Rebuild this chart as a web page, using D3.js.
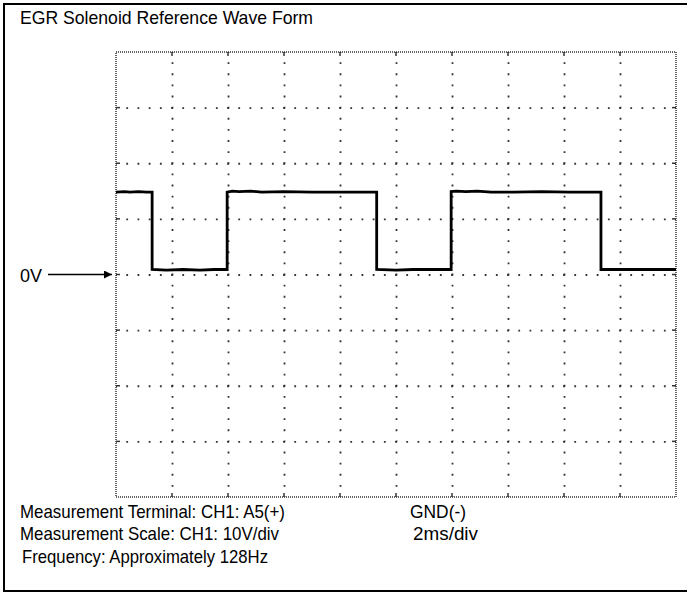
<html>
<head>
    <style>
        body { margin: 0; background: #ffffff; }
        svg { display: block; font-family: Arial, "Liberation Sans", Helvetica, sans-serif; }
    </style>
    <script src="https://cdn.jsdelivr.net/npm/d3@7"></script>
</head>
<body>
<svg id="Osciloscopio"></svg>
<script>
    // Trace: time in ms, voltage in V
    let tiempos = [0, 0.3, 0.5, 0.8, 1.1, 1.29,
                   1.29, 1.8, 2.4, 3.0, 3.5, 3.97,
                   3.97, 4.15, 4.4, 4.8, 5.2, 6.0, 7.0, 8.0, 8.8, 9.31,
                   9.31, 10.0, 10.6, 11.2, 11.97,
                   11.97, 12.15, 12.5, 12.9, 13.4, 14.2, 15.2, 16.2, 17.32,
                   17.32, 18.2, 19.2, 20];
    let voltajes = [14.8, 14.9, 14.8, 14.9, 14.8, 14.8,
                    0.9, 0.8, 0.9, 0.8, 0.9, 0.9,
                    14.8, 15.0, 14.9, 15.0, 14.8, 14.9, 14.8, 14.8, 14.8, 14.8,
                    0.9, 0.8, 0.9, 0.9, 0.9,
                    14.9, 15.0, 14.9, 15.0, 14.8, 14.8, 14.9, 14.8, 14.8,
                    0.9, 0.9, 0.9, 0.9];

    // 2ms/div x 10 divisions, 10V/div x 8 divisions
    let ticksTiempo = [0, 2, 4, 6, 8, 10, 12, 14, 16, 18, 20];
    let ticksVoltaje = [-40, -30, -20, -10, 0, 10, 20, 30, 40];

    let titulo = "EGR Solenoid Reference Wave Form";
    let notas = [
        ["Measurement Terminal: CH1: A5(+)", "GND(-)"],
        ["Measurement Scale: CH1: 10V/div", "2ms/div"],
        ["Frequency: Approximately 128Hz", ""]
    ];

    let ancho = 687, alto = 594;
    let margenes = { top: 52, bottom: 97, left: 116, right: 11 };
    let anchuraCuerpo = ancho - margenes.left - margenes.right;
    let alturaCuerpo = alto - margenes.top - margenes.bottom;

    let contenedor = d3.select("#Osciloscopio").attr("width", ancho).attr("height", alto);

    // marco exterior (el borde derecho queda fuera de la imagen)
    contenedor.append("rect")
        .attr("x", 4).attr("y", 4).attr("width", 700).attr("height", 587)
        .attr("fill", "none").attr("stroke", "#000").attr("stroke-width", 2);

    contenedor.append("text")
        .attr("x", 20).attr("y", 24)
        .attr("font-size", 18.5)
        .attr("textLength", 293).attr("lengthAdjust", "spacingAndGlyphs")
        .text(titulo);

    let escalaX = d3.scaleLinear().domain([0, 20]).range([margenes.left, margenes.left + anchuraCuerpo]);
    let escalaY = d3.scaleLinear().domain([-40, 40]).range([margenes.top + alturaCuerpo, margenes.top]);

    let pasoX = (escalaX(2) - escalaX(0)) / 5;
    let pasoY = (escalaY(0) - escalaY(10)) / 5;

    // rejilla interior punteada (5 puntos por division)
    let ejeX = d3.axisBottom(escalaX).tickValues(ticksTiempo.slice(1, -1)).tickSize(-alturaCuerpo).tickFormat("");
    let gX = contenedor.append("g")
        .attr("transform", `translate(0,${margenes.top + alturaCuerpo})`)
        .call(ejeX);
    gX.select(".domain").remove();
    gX.selectAll(".tick line")
        .attr("stroke", "#333").attr("stroke-width", 1.8)
        .attr("stroke-dasharray", `1.8,${pasoY - 1.8}`)
        .attr("stroke-dashoffset", 0.9);

    let ejeY = d3.axisLeft(escalaY).tickValues(ticksVoltaje.slice(1, -1)).tickSize(-anchuraCuerpo).tickFormat("");
    let gY = contenedor.append("g")
        .attr("transform", `translate(${margenes.left},0)`)
        .call(ejeY);
    gY.select(".domain").remove();
    gY.selectAll(".tick line")
        .attr("stroke", "#333").attr("stroke-width", 1.8)
        .attr("stroke-dasharray", `1.8,${pasoX - 1.8}`)
        .attr("stroke-dashoffset", 0.9);

    // borde de la rejilla
    contenedor.append("rect")
        .attr("x", margenes.left).attr("y", margenes.top)
        .attr("width", anchuraCuerpo).attr("height", alturaCuerpo)
        .attr("fill", "none").attr("stroke", "#333").attr("stroke-width", 1.5)
        .attr("stroke-dasharray", "1,1");

    // pequeñas marcas en el borde en cada division
    let marcas = contenedor.append("g").attr("stroke", "#333").attr("stroke-width", 1.5);
    ticksTiempo.slice(1, -1).forEach(t => {
        marcas.append("line").attr("x1", escalaX(t)).attr("x2", escalaX(t))
            .attr("y1", margenes.top).attr("y2", margenes.top + 4);
        marcas.append("line").attr("x1", escalaX(t)).attr("x2", escalaX(t))
            .attr("y1", margenes.top + alturaCuerpo).attr("y2", margenes.top + alturaCuerpo - 4);
    });
    ticksVoltaje.slice(1, -1).forEach(v => {
        marcas.append("line").attr("x1", margenes.left).attr("x2", margenes.left + 4)
            .attr("y1", escalaY(v)).attr("y2", escalaY(v));
        marcas.append("line").attr("x1", margenes.left + anchuraCuerpo).attr("x2", margenes.left + anchuraCuerpo - 4)
            .attr("y1", escalaY(v)).attr("y2", escalaY(v));
    });

    // traza
    let puntos = tiempos.map((t, i) => [t, voltajes[i]]);
    let linea = d3.line().x(d => escalaX(d[0])).y(d => escalaY(d[1]));
    contenedor.append("path")
        .datum(puntos)
        .attr("d", linea)
        .attr("fill", "none").attr("stroke", "#000").attr("stroke-width", 2.8)
        .attr("stroke-linejoin", "miter");

    // etiqueta 0V con flecha
    contenedor.append("defs").append("marker")
        .attr("id", "punta").attr("viewBox", "0 0 10 10")
        .attr("refX", 10).attr("refY", 5)
        .attr("markerWidth", 13).attr("markerHeight", 8)
        .attr("markerUnits", "userSpaceOnUse")
        .attr("orient", "auto")
        .append("path").attr("d", "M0,0 L10,5 L0,10 Z").attr("fill", "#000");
    contenedor.append("text")
        .attr("x", 20).attr("y", escalaY(0) + 7)
        .attr("font-size", 18)
        .text("0V");
    contenedor.append("line")
        .attr("x1", 48).attr("x2", margenes.left - 4)
        .attr("y1", escalaY(0)).attr("y2", escalaY(0))
        .attr("stroke", "#000").attr("stroke-width", 1.5)
        .attr("marker-end", "url(#punta)");

    // notas de medida
    let filas = [518, 540, 563];
    let xs = [[20, 410], [20, 413], [22, 0]];
    let largos = [[265, 56], [259, 65], [246, 0]];
    notas.forEach((fila, i) => {
        fila.forEach((txt, j) => {
            if (!txt) return;
            contenedor.append("text")
                .attr("x", xs[i][j]).attr("y", filas[i])
                .attr("font-size", 18.5)
                .attr("textLength", largos[i][j]).attr("lengthAdjust", "spacingAndGlyphs")
                .text(txt);
        });
    });
</script>
</body>
</html>
